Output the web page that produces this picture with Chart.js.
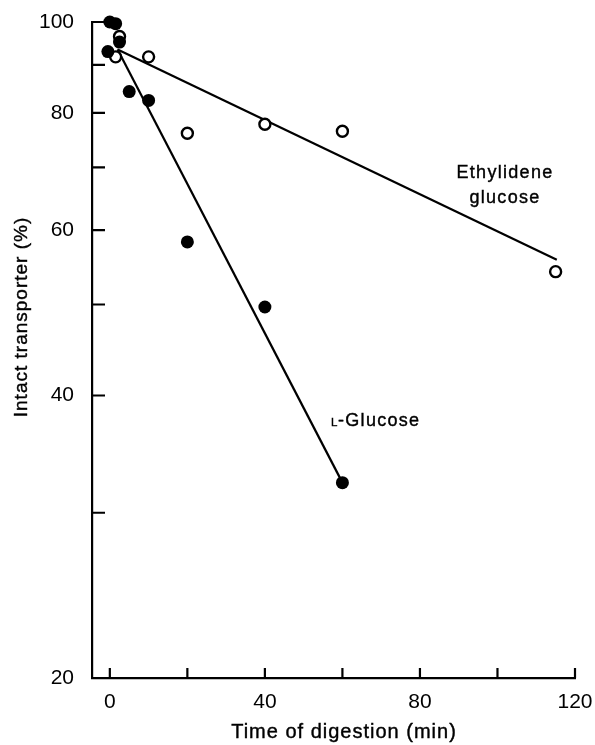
<!DOCTYPE html>
<html lang="en">
<head>
    <title>Transporter digestion</title>
    <script src="https://cdn.jsdelivr.net/npm/chart.js"></script>
    <style>
        body { margin: 0; background: #fff; }
    </style>
</head>
<body>
    <canvas id="chart" width="595" height="745"></canvas>

    <script>
        // time of digestion (min) and intact transporter (%)
        var glcTime = [0, 1.5, -0.5, 2.5, 5, 10, 20, 40, 60];
        var glcPct = [100, 99.6, 93, 95.2, 84.3, 82.5, 58.3, 49.7, 32.3];
        var ethTime = [1.5, 2.5, 10, 20, 40, 60, 115];
        var ethPct = [91.8, 96.5, 91.8, 76.1, 77.8, 76.5, 54.2];

        // fitted lines
        var glcFitTime = [2, 60];
        var glcFitPct = [93.5, 32.3];
        var ethFitTime = [2, 115.3];
        var ethFitPct = [93.5, 55.8];

        // axis ticks
        var xTicks = [0, 20, 40, 60, 80, 100, 120];
        var xLabels = [0, 40, 80, 120];
        var yTicks = [20, 30, 40, 50, 60, 70, 80, 90, 100];
        var yLabels = [20, 40, 60, 80, 100];

        var ink = '#000';
        var font = 'Liberation Sans, Arial, sans-serif';

        function pts(xs, ys) {
            return xs.map((x, i) => ({ x: x, y: ys[i] }));
        }

        function text(ctx, str, x, y, size, spacing) {
            ctx.font = size + 'px ' + font;
            ctx.letterSpacing = spacing + 'px';
            ctx.fillText(str, x, y);
            ctx.strokeText(str, x, y);
        }

        var inwardTicks = {
            id: 'inwardTicks',
            beforeDatasetsDraw(chart) {
                var ctx = chart.ctx, a = chart.chartArea;
                var xs = chart.scales.x, ys = chart.scales.y;
                ctx.save();
                ctx.strokeStyle = ink;
                ctx.lineWidth = 2.2;
                ctx.beginPath();
                ys.ticks.forEach(t => {
                    var py = ys.getPixelForValue(t.value);
                    ctx.moveTo(a.left, py);
                    ctx.lineTo(a.left + 13, py);
                });
                xs.ticks.forEach(t => {
                    var px = xs.getPixelForValue(t.value);
                    ctx.moveTo(px, a.bottom);
                    ctx.lineTo(px, a.bottom - 10);
                });
                ctx.stroke();
                ctx.restore();
            }
        };

        var labels = {
            id: 'labels',
            afterDraw(chart) {
                var ctx = chart.ctx;
                ctx.save();
                ctx.fillStyle = ink;
                ctx.strokeStyle = ink;
                ctx.lineWidth = 0.4;
                ctx.textBaseline = 'alphabetic';

                ctx.textAlign = 'center';
                text(ctx, 'Ethylidene', 505, 178, 18, 1.3);
                text(ctx, 'glucose', 505, 203, 18, 1.3);
                text(ctx, 'Time of digestion (min)', 344, 738, 20, 1);

                ctx.textAlign = 'left';
                text(ctx, 'L', 331, 426, 11.5, 0);
                text(ctx, '-Glucose', 338, 426, 18, 1.3);

                ctx.translate(27, 317);
                ctx.rotate(-Math.PI / 2);
                ctx.textAlign = 'center';
                text(ctx, 'Intact transporter (%)', 0, 0, 19, 1);
                ctx.restore();
            }
        };

        var ctx = document.getElementById('chart').getContext('2d');
        var chart = new Chart(ctx, {
            type: 'scatter',
            data: {
                datasets: [{
                    label: 'L-Glucose',
                    data: pts(glcTime, glcPct),
                    pointRadius: 6.5,
                    pointBackgroundColor: ink,
                    pointBorderColor: ink,
                    pointBorderWidth: 0,
                    clip: false
                }, {
                    label: 'Ethylidene glucose',
                    data: pts(ethTime, ethPct),
                    pointRadius: 5.5,
                    pointBackgroundColor: '#fff',
                    pointBorderColor: ink,
                    pointBorderWidth: 2.4,
                    clip: false
                }, {
                    label: 'L-Glucose fit',
                    data: pts(glcFitTime, glcFitPct),
                    showLine: true,
                    pointRadius: 0,
                    borderColor: ink,
                    borderWidth: 2.2,
                    clip: false
                }, {
                    label: 'Ethylidene glucose fit',
                    data: pts(ethFitTime, ethFitPct),
                    showLine: true,
                    pointRadius: 0,
                    borderColor: ink,
                    borderWidth: 2.2,
                    clip: false
                }]
            },
            options: {
                responsive: false,
                animation: false,
                devicePixelRatio: 1,
                layout: { padding: { top: 22, right: 20, left: 0, bottom: 0 } },
                plugins: {
                    legend: { display: false },
                    tooltip: { enabled: false }
                },
                scales: {
                    x: {
                        type: 'linear',
                        min: -4.6,
                        max: 120,
                        afterFit: s => { s.height = 67; s.paddingLeft = 0; s.paddingRight = 0; },
                        afterBuildTicks: s => { s.ticks = xTicks.map(v => ({ value: v })); },
                        grid: { display: false },
                        border: { display: true, color: ink, width: 2.2 },
                        ticks: {
                            autoSkip: false,
                            maxRotation: 0,
                            padding: 4,
                            color: ink,
                            font: { family: font, size: 21 },
                            callback: v => xLabels.includes(v) ? String(v) : ''
                        }
                    },
                    y: {
                        type: 'logarithmic',
                        min: 20,
                        max: 100,
                        afterFit: s => { s.width = 92; s.paddingTop = 0; s.paddingBottom = 0; },
                        afterBuildTicks: s => { s.ticks = yTicks.map(v => ({ value: v })); },
                        grid: { display: false },
                        border: { display: true, color: ink, width: 2.2 },
                        ticks: {
                            autoSkip: false,
                            padding: 10,
                            color: ink,
                            font: { family: font, size: 21 },
                            callback: v => yLabels.includes(v) ? String(v) : ''
                        }
                    }
                }
            },
            plugins: [inwardTicks, labels]
        });
    </script>
</body>
</html>
